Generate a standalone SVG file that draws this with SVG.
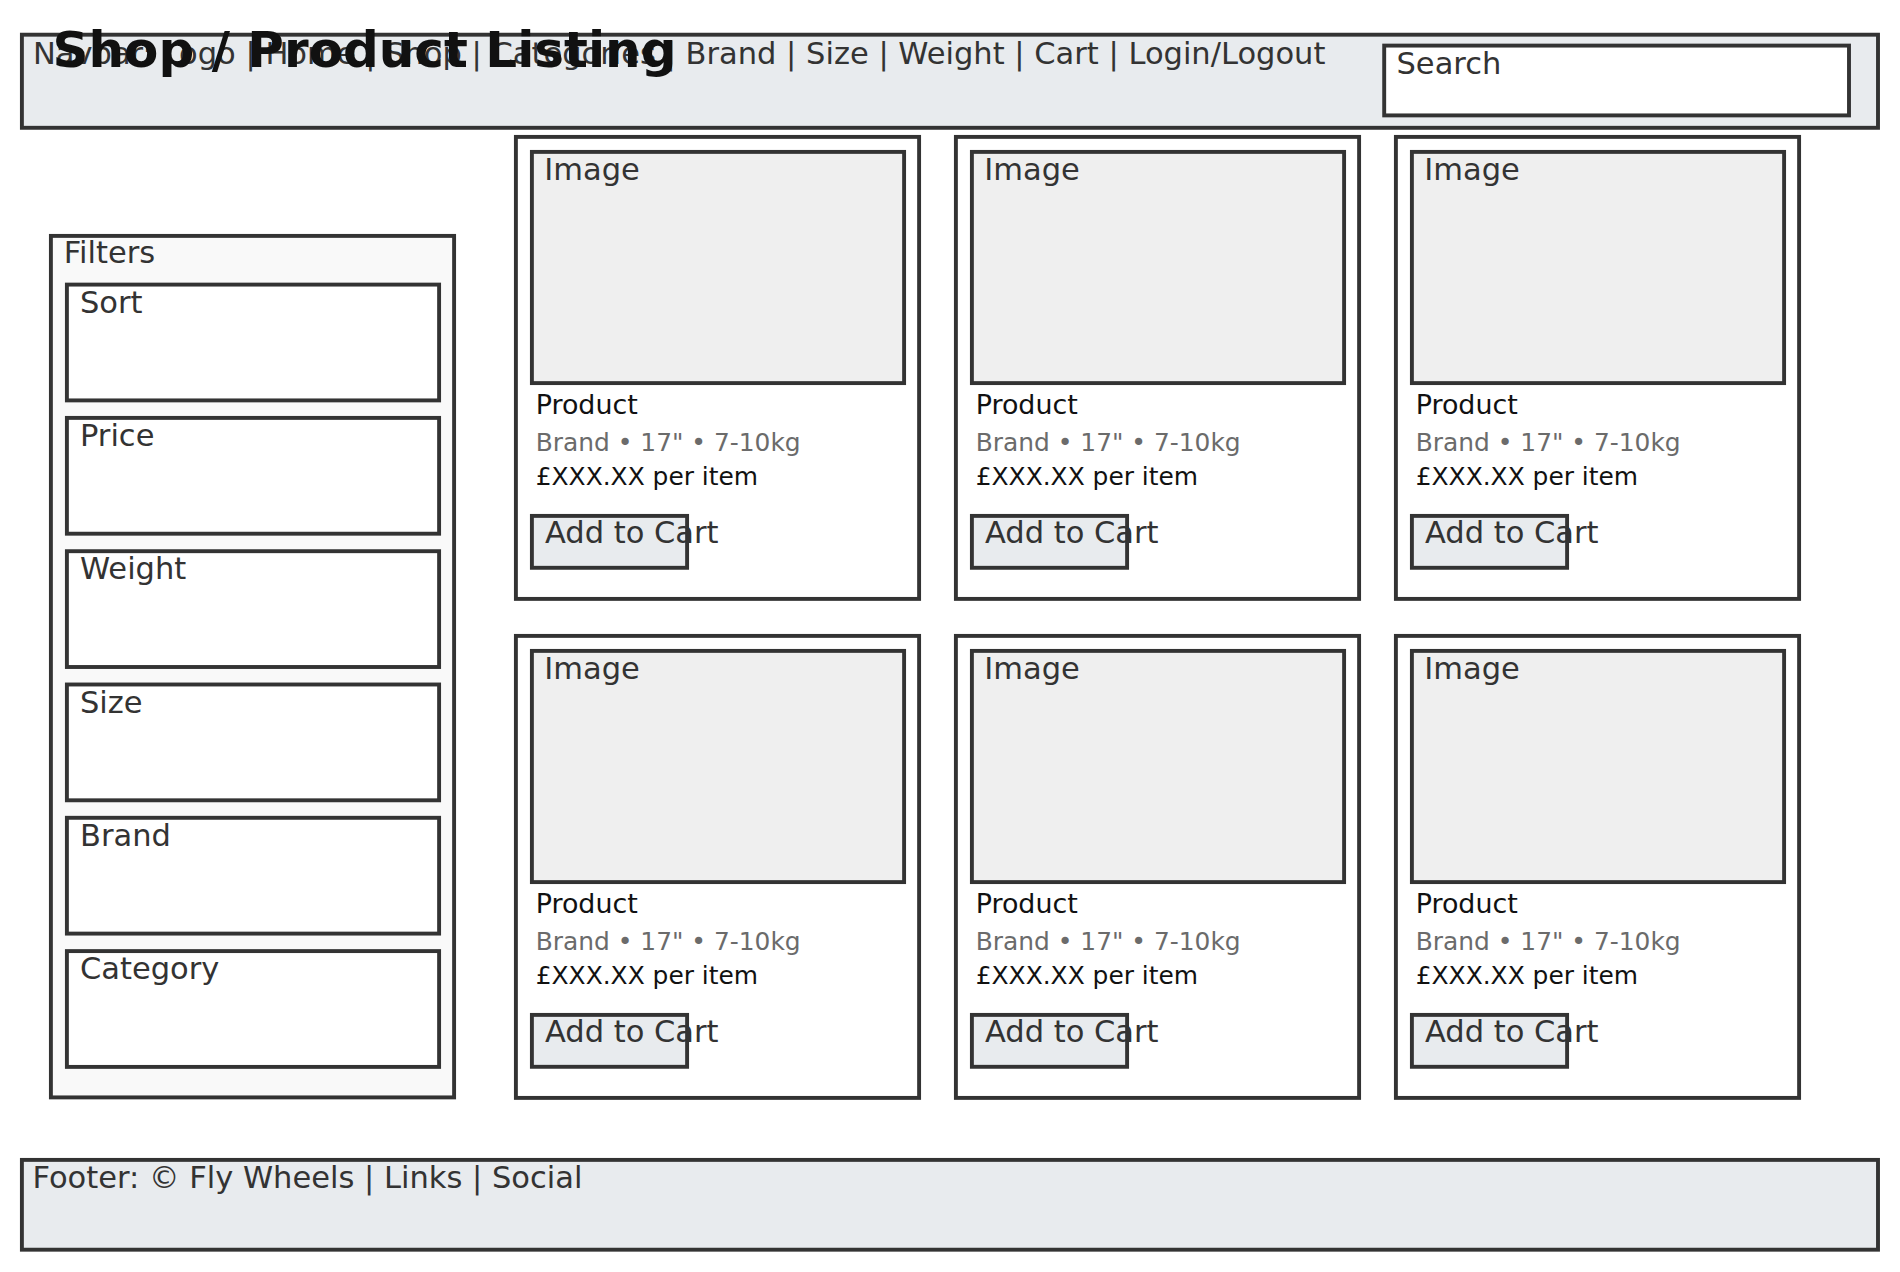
<svg xmlns="http://www.w3.org/2000/svg" width="1900" height="1272" viewBox="0 0 1900 1272">
<style>
  text { font-family: "DejaVu Sans", "Noto Sans", sans-serif; }
  .box { stroke: #333333; stroke-width: 3.9; }
  .bar { fill: #e8ebee; }
  .white { fill: #ffffff; }
  .panel { fill: #f9f9f9; }
  .img { fill: #efefef; }
  .lbl { font-size: 30.5px; fill: #333333; }
  .title { font-size: 50px; font-weight: bold; fill: #111111; }
  .prod { font-size: 26.9px; fill: #111111; }
  .meta { font-size: 24.9px; fill: #6b6b6b; }
  .price { font-size: 24.9px; fill: #111111; }
</style>
<defs>
  <g id="card">
    <rect class="box white" x="1.9" y="1.9" width="403.2" height="462"/>
    <rect class="box img" x="17.9" y="16.9" width="372.2" height="231.2"/>
    <text class="lbl" x="30.3" y="45">Image</text>
    <text class="prod" x="21.7" y="279">Product</text>
    <text class="meta" x="21.7" y="316">Brand • 17" • 7-10kg</text>
    <text class="price" x="21.7" y="350">£XXX.XX per item</text>
    <rect class="box bar" x="17.9" y="380.9" width="155.2" height="51.9"/>
    <text class="lbl" x="31" y="408.3">Add to Cart</text>
  </g>
</defs>
<rect width="1900" height="1272" fill="#ffffff"/>
<g id="navbar">
  <rect class="box bar" x="21.9" y="34.7" width="1856.1" height="93.1"/>
  <text class="lbl" x="33" y="64.3">Navbar: Logo | Home | Shop | Categories | Brand | Size | Weight | Cart | Login/Logout</text>
</g>
<g id="search">
  <rect class="box white" x="1384.2" y="45.6" width="464.8" height="69.8"/>
  <text class="lbl" x="1396.5" y="74">Search</text>
</g>
<g id="title">
  <text class="title" x="52.5" y="66.7">Shop / Product Listing</text>
</g>
<g id="filters">
  <rect class="box panel" x="50.9" y="235.9" width="403.2" height="861.5"/>
  <text class="lbl" x="63.7" y="263.3">Filters</text>
</g>
<g id="filter-sort">
  <rect class="box white" x="66.9" y="284.6" width="372.2" height="115.8"/>
  <text class="lbl" x="80" y="312.7">Sort</text>
</g>
<g id="filter-price">
  <rect class="box white" x="66.9" y="417.9" width="372.2" height="115.8"/>
  <text class="lbl" x="80" y="446">Price</text>
</g>
<g id="filter-weight">
  <rect class="box white" x="66.9" y="551.2" width="372.2" height="115.8"/>
  <text class="lbl" x="80" y="579.3">Weight</text>
</g>
<g id="filter-size">
  <rect class="box white" x="66.9" y="684.5" width="372.2" height="115.8"/>
  <text class="lbl" x="80" y="712.6">Size</text>
</g>
<g id="filter-brand">
  <rect class="box white" x="66.9" y="817.8" width="372.2" height="115.8"/>
  <text class="lbl" x="80" y="845.9">Brand</text>
</g>
<g id="filter-category">
  <rect class="box white" x="66.9" y="951.1" width="372.2" height="115.8"/>
  <text class="lbl" x="80" y="979.2">Category</text>
</g>
<g id="card-1" transform="translate(514,135)"><use href="#card"/></g>
<g id="card-2" transform="translate(954,135)"><use href="#card"/></g>
<g id="card-3" transform="translate(1394,135)"><use href="#card"/></g>
<g id="card-4" transform="translate(514,634)"><use href="#card"/></g>
<g id="card-5" transform="translate(954,634)"><use href="#card"/></g>
<g id="card-6" transform="translate(1394,634)"><use href="#card"/></g>
<g id="footer">
  <rect class="box bar" x="21.9" y="1159.9" width="1856.1" height="89.8"/>
  <text class="lbl" x="32.5" y="1188.3">Footer: © Fly Wheels | Links | Social</text>
</g>
<g id="connectors"/>
</svg>
